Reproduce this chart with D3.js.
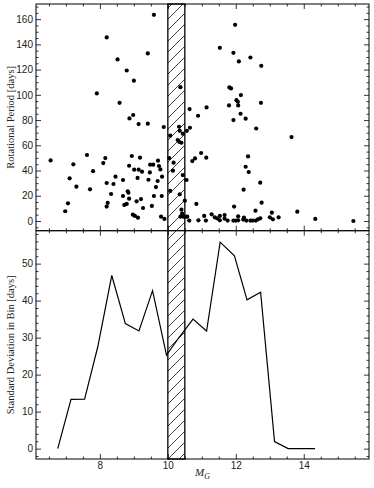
<!DOCTYPE html>
<html>
<head>
<meta charset="utf-8">
<script src="https://cdn.jsdelivr.net/npm/d3@7"></script>
<style>
  body { margin: 0; background: #fff; }
  svg { display: block; font-family: "Liberation Serif", "DejaVu Serif", serif; }
  .tick text { fill: #222; font-size: 10px; }
  .tick line { stroke: #000; stroke-width: 0.8; }
</style>
</head>
<body>
<svg class="container" width="374" height="488"></svg>
<script>
// scatter: absolute magnitude vs rotational period
let magG = [
  6.55, 6.98, 7.06, 7.11, 7.22, 7.31, 7.62, 7.71, 7.80, 7.91, 8.10, 8.16, 8.20, 8.20, 8.20, 8.23,
  8.33, 8.40, 8.46, 8.52, 8.58, 8.68, 8.68, 8.72, 8.79, 8.79, 8.82, 8.84, 8.86, 8.86, 8.87, 8.94,
  8.98, 8.97, 9.00, 9.01, 9.03, 9.08, 9.11, 9.12, 9.14, 9.14, 9.18, 9.21, 9.24, 9.27, 9.41, 9.41,
  9.43, 9.47, 9.48, 9.53, 9.57, 9.59, 9.59, 9.65, 9.70, 9.71, 9.74, 9.78, 9.82, 9.83, 9.80, 9.88,
  9.90, 10.07, 10.04, 10.07, 10.17, 10.15, 10.29, 10.33, 10.35, 10.34, 10.40, 10.37, 10.44, 10.35,
  10.44, 10.40, 10.37, 10.42, 10.50, 10.46, 10.55, 10.52, 10.57, 10.56, 10.64, 10.65, 10.63, 10.72,
  10.80, 10.98, 10.89, 11.14, 11.13, 10.84, 10.90, 11.07, 11.12, 11.29, 11.38, 11.45, 11.53, 11.53,
  11.67, 11.67, 11.76, 11.53, 11.81, 11.86, 11.80, 11.93, 11.98, 12.02, 12.06, 12.07, 12.09, 12.15,
  12.14, 11.93, 12.29, 12.43, 12.60, 12.75, 12.74, 12.36, 12.29, 12.38, 12.23, 12.72, 12.76, 12.58,
  11.95, 11.93, 12.00, 12.07, 12.07, 12.22, 12.24, 12.31, 12.43, 12.50, 12.59, 12.65, 12.72, 13.00,
  13.06, 13.09, 13.26, 13.64, 13.81, 14.34, 15.46
];
let period = [
  48.0, 7.7, 14.0, 33.8, 44.9, 27.2, 52.3, 25.1, 39.5, 101.1, 45.9, 49.9, 145.5, 30.1, 11.4, 14.3,
  21.4, 29.3, 35.1, 128.1, 93.7, 32.5, 19.8, 12.7, 13.5, 119.3, 23.5, 22.4, 43.8, 17.7, 81.3, 51.5,
  84.0, 5.0, 111.2, 40.7, 4.0, 15.6, 34.1, 2.6, 40.7, 76.8, 50.2, 17.4, 39.1, 10.3, 132.8, 77.1,
  32.7, 38.5, 44.6, 11.9, 44.6, 19.8, 163.4, 26.9, 31.7, 47.8, 43.6, 40.9, 19.8, 35.1, 3.4, 74.5,
  1.6, 67.6, 49.9, 23.8, 46.2, 39.9, 64.2, 74.7, 71.5, 62.6, 62.0, 106.1, 69.2, 21.1,
  36.4, 9.0, 3.4, 5.8, 16.1, 3.4, 32.5, 3.4, 3.4, 71.5, 88.7, 73.9, 0.3, 47.5,
  49.6, 53.9, 83.4, 90.0, 50.2, 13.5, 0.5, 4.0, 0.3, 5.3, 2.9, 2.1, 4.0, 0.5,
  4.7, 1.8, 0.3, 137.3, 105.9, 105.1, 91.6, 133.3, 155.5, 95.8, 94.5, 91.6, 126.5, 99.8,
  85.0, 80.0, 81.1, 129.6, 73.3, 123.0, 93.7, 51.2, 43.0, 38.8, 24.8, 30.4, 14.5, 8.2,
  11.4, 0.3, 0.3, 3.7, 0.5, 1.1, 2.6, 0.3, 0.3, 0.3, 0.3, 1.3, 2.1, 2.9,
  6.6, 1.3, 2.9, 66.5, 7.4, 1.6, 0.0
];

// binned standard deviation
let binCenters = [6.76, 7.15, 7.55, 7.94, 8.35, 8.75, 9.15, 9.55, 9.96, 10.35, 10.74, 11.14,
  11.54, 11.96, 12.33, 12.73, 13.14, 13.54, 13.94, 14.33];
let binStd = [0, 13.3, 13.4, 27.6, 46.8, 33.8, 31.8, 42.7, 25.3, 30.3, 35.0, 31.8,
  55.8, 52.1, 40.2, 42.3, 1.9, 0, 0, 0];

let gapBand = [10, 10.5];
let xTicks = [8, 10, 12, 14];
let periodTicks = [0, 20, 40, 60, 80, 100, 120, 140, 160];
let stdTicks = [0, 10, 20, 30, 40, 50];

let mLeft = 36, mRight = 369, mTop = 4, mMid = 230.7, mBottom = 459;

let svg = d3.select(".container");

let x = d3.scaleLinear().domain([6.12, 15.92]).range([mLeft, mRight]);
let yTop = d3.scaleLinear().domain([-7.7, 172]).range([mMid, mTop]);
let yBot = d3.scaleLinear().domain([-2.8, 58.9]).range([mBottom, mMid]);

let defs = svg.append("defs");
let pat = defs.append("pattern")
  .attr("id", "hatch")
  .attr("patternUnits", "userSpaceOnUse")
  .attr("width", 11).attr("height", 11);
pat.append("path")
  .attr("d", "M-1,1 l2,-2 M0,11 l11,-11 M10,12 l2,-2")
  .attr("stroke", "#111").attr("stroke-width", 0.8);

defs.append("clipPath").attr("id", "clipTop")
  .append("rect").attr("x", mLeft).attr("y", mTop)
  .attr("width", mRight - mLeft).attr("height", mMid - mTop);
defs.append("clipPath").attr("id", "clipBot")
  .append("rect").attr("x", mLeft).attr("y", mMid)
  .attr("width", mRight - mLeft).attr("height", mBottom - mMid);

// hatched band across both panels
svg.append("rect")
  .attr("x", x(gapBand[0]))
  .attr("y", mTop)
  .attr("width", x(gapBand[1]) - x(gapBand[0]))
  .attr("height", mBottom - mTop)
  .attr("fill", "url(#hatch)")
  .attr("stroke", "#000")
  .attr("stroke-width", 1.3);

// scatter
let pts = magG.map((m, i) => ({ m: m, p: period[i] }));
svg.append("g").attr("clip-path", "url(#clipTop)")
  .selectAll("circle")
  .data(pts)
  .enter()
  .append("circle")
  .attr("cx", d => x(d.m))
  .attr("cy", d => yTop(d.p))
  .attr("r", 2.1)
  .attr("fill", "#000");

// std line
let line = d3.line().x((d, i) => x(binCenters[i])).y(d => yBot(d));
svg.append("path")
  .attr("clip-path", "url(#clipBot)")
  .datum(binStd)
  .attr("d", line)
  .attr("fill", "none")
  .attr("stroke", "#000")
  .attr("stroke-width", 1.2);

function range(a, b, s) {
  let out = [];
  for (let v = a; v <= b + 1e-9; v += s) out.push(+v.toFixed(3));
  return out;
}
let xMinor = range(6.5, 15.5, 0.5).filter(v => xTicks.indexOf(v) < 0);
let pMinor = range(-5, 170, 5).filter(v => v % 20 != 0);
let sMinor = range(-2, 58, 2).filter(v => v % 10 != 0);

function ticks(axisFn, scale, vals, size, transform, labels) {
  let ax = axisFn(scale).tickValues(vals).tickSize(-size).tickPadding(3);
  if (!labels) ax.tickFormat("");
  let g = svg.append("g").attr("transform", transform).call(ax);
  g.select(".domain").remove();
  g.selectAll("text").style("font-size", "10px");
  return g;
}

// top panel
ticks(d3.axisLeft, yTop, periodTicks, 5, `translate(${mLeft},0)`, true);
ticks(d3.axisLeft, yTop, pMinor, 2.5, `translate(${mLeft},0)`, false);
ticks(d3.axisRight, yTop, periodTicks, 5, `translate(${mRight},0)`, false);
ticks(d3.axisRight, yTop, pMinor, 2.5, `translate(${mRight},0)`, false);
ticks(d3.axisTop, x, xTicks, 5, `translate(0,${mTop})`, false);
ticks(d3.axisTop, x, xMinor, 2.5, `translate(0,${mTop})`, false);
ticks(d3.axisBottom, x, xTicks, 5, `translate(0,${mMid})`, false);
ticks(d3.axisBottom, x, xMinor, 2.5, `translate(0,${mMid})`, false);

// bottom panel
ticks(d3.axisLeft, yBot, stdTicks, 5, `translate(${mLeft},0)`, true);
ticks(d3.axisLeft, yBot, sMinor, 2.5, `translate(${mLeft},0)`, false);
ticks(d3.axisRight, yBot, stdTicks, 5, `translate(${mRight},0)`, false);
ticks(d3.axisRight, yBot, sMinor, 2.5, `translate(${mRight},0)`, false);
ticks(d3.axisTop, x, xTicks, 5, `translate(0,${mMid})`, false);
ticks(d3.axisTop, x, xMinor, 2.5, `translate(0,${mMid})`, false);
ticks(d3.axisBottom, x, xTicks, 5, `translate(0,${mBottom})`, true);
ticks(d3.axisBottom, x, xMinor, 2.5, `translate(0,${mBottom})`, false);

// frames
[[mTop, mMid], [mMid, mBottom]].forEach(r => {
  svg.append("rect")
    .attr("x", mLeft).attr("y", r[0])
    .attr("width", mRight - mLeft).attr("height", r[1] - r[0])
    .attr("fill", "none").attr("stroke", "#000").attr("stroke-width", 1);
});

// labels
svg.append("text")
  .attr("transform", `translate(14,${(mTop + mMid) / 2}) rotate(-90)`)
  .attr("text-anchor", "middle")
  .attr("fill", "#222")
  .style("font-size", "10.5px")
  .text("Rotational Period [days]");
svg.append("text")
  .attr("transform", `translate(14,${(mMid + mBottom) / 2}) rotate(-90)`)
  .attr("text-anchor", "middle")
  .attr("fill", "#222")
  .style("font-size", "10.5px")
  .text("Standard Deviation in Bin [days]");
let xl = svg.append("text")
  .attr("x", (mLeft + mRight) / 2)
  .attr("y", 476)
  .attr("text-anchor", "middle")
  .attr("fill", "#222")
  .style("font-size", "11px")
  .style("font-style", "italic");
xl.append("tspan").text("M");
xl.append("tspan").attr("dy", 2.5).style("font-size", "8px").text("G");
</script>
</body>
</html>
